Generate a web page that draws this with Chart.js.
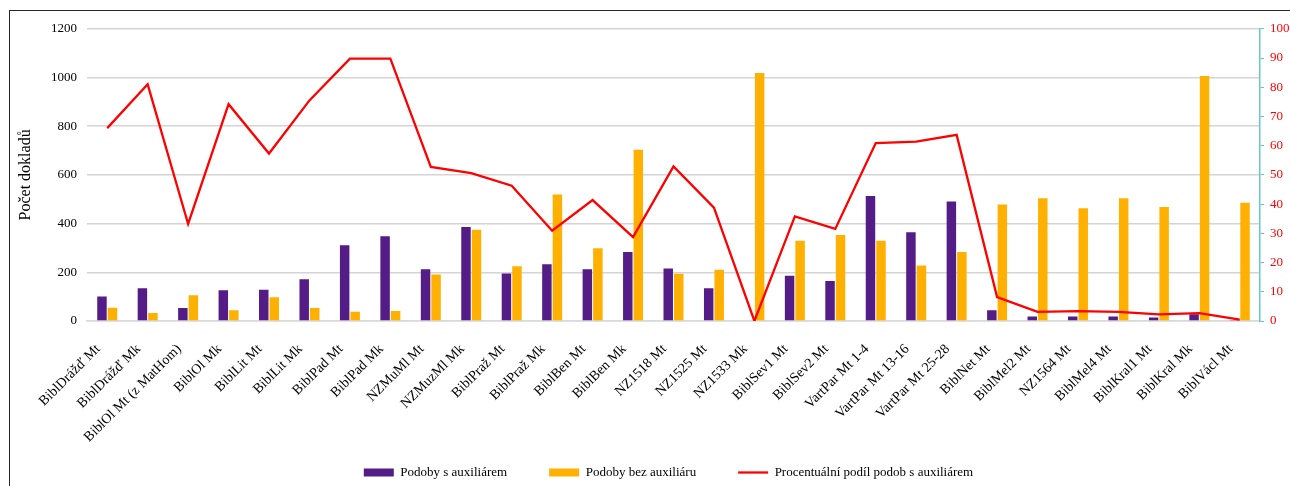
<!DOCTYPE html>
<html>
<head>
<meta charset="utf-8">
<script src="https://cdn.jsdelivr.net/npm/chart.js@4"></script>
<style>
  html, body { margin: 0; padding: 0; background: #fff; overflow: hidden; }
  #frame { position: absolute; left: 9px; top: 10px; width: 1400px; height: 600px; border: 1px solid #262626; }
  #wrap { position: absolute; left: 11px; top: 11px; }
</style>
</head>
<body>
<div id="frame"></div>
<div id="wrap"><canvas id="myChart" width="1315" height="478"></canvas></div>
<script>
// texty a počty dokladů
const labels = [
  'BiblDrážď Mt', 'BiblDrážď Mk', 'BiblOl Mt (z MatHom)', 'BiblOl Mk', 'BiblLit Mt',
  'BiblLit Mk', 'BiblPad Mt', 'BiblPad Mk', 'NZMuMl Mt', 'NZMuzMl Mk',
  'BiblPraž Mt', 'BiblPraž Mk', 'BiblBen Mt', 'BiblBen Mk', 'NZ1518 Mt',
  'NZ1525 Mt', 'NZ1533 Mk', 'BiblSev1 Mt', 'BiblSev2 Mt', 'VartPar Mt 1-4',
  'VartPar Mt 13-16', 'VartPar Mt 25-28', 'BiblNet Mt', 'BiblMel2 Mt', 'NZ1564 Mt',
  'BiblMel4 Mt', 'BiblKral1 Mt', 'BiblKral Mk', 'BiblVácl Mt'
];

const sAuxiliarem = [101, 135, 53, 126, 128, 171, 311, 348, 213, 386, 195, 233, 213, 283, 216,
  135, 0, 186, 164, 513, 364, 491, 44, 18, 18, 18, 14, 28, 2];

const bezAuxiliaru = [54, 33, 106, 44, 98, 53, 38, 41, 191, 375, 225, 519, 299, 703, 194,
  210, 1018, 330, 353, 330, 228, 283, 478, 504, 463, 504, 468, 1006, 486];

// procentuální podíl podob s auxiliárem
const podil = [66.0, 81.0, 33.2, 74.2, 57.3, 75.5, 89.8, 89.8, 52.7, 50.6, 46.3, 30.9, 41.4, 28.7, 52.9,
  38.8, 0, 35.8, 31.5, 60.9, 61.4, 63.7, 8.2, 3.1, 3.4, 3.1, 2.3, 2.7, 0.5];

const levaOsa = [0, 200, 400, 600, 800, 1000, 1200];
const pravaOsa = [0, 10, 20, 30, 40, 50, 60, 70, 80, 90, 100];

Chart.defaults.font.family = "'Liberation Serif', 'Times New Roman', serif";
Chart.defaults.color = '#000';

// popisky osy x přesahují pod legendu, proto se neořezávají na výšku osy
const volnePopisky = {
  id: 'volnePopisky',
  afterLayout(chart) {
    const x = chart.scales.x;
    x._computeLabelArea = function () {
      return { top: this.top, left: 0, bottom: this.chart.height, right: this.chart.width };
    };
  }
};

const data = {
  labels: labels,
  datasets: [
    {
      type: 'bar',
      label: 'Podoby s auxiliárem',
      data: sAuxiliarem,
      backgroundColor: '#531c87',
      yAxisID: 'y',
      order: 1,
      categoryPercentage: 0.52,
      barPercentage: 0.9
    },
    {
      type: 'bar',
      label: 'Podoby bez auxiliáru',
      data: bezAuxiliaru,
      backgroundColor: '#ffb000',
      yAxisID: 'y',
      order: 1,
      categoryPercentage: 0.52,
      barPercentage: 0.9
    },
    {
      type: 'line',
      label: 'Procentuální podíl podob s auxiliárem',
      data: podil,
      borderColor: '#ff0000',
      backgroundColor: '#ff0000',
      borderWidth: 2.3,
      pointRadius: 0,
      tension: 0,
      fill: false,
      yAxisID: 'y1',
      order: 0
    }
  ]
};

const config = {
  type: 'bar',
  data: data,
  plugins: [volnePopisky],
  options: {
    responsive: false,
    animation: false,
    layout: { padding: { top: 16, left: 0, right: 0, bottom: 0 } },
    plugins: {
      tooltip: { enabled: false },
      legend: {
        position: 'bottom',
        labels: {
          usePointStyle: true,
          pointStyleWidth: 30,
          boxHeight: 8,
          padding: 42,
          color: '#000',
          font: { size: 13 },
          generateLabels(chart) {
            const items = Chart.defaults.plugins.legend.labels.generateLabels(chart);
            items.sort((a, b) => a.datasetIndex - b.datasetIndex);
            items.forEach(it => {
              const ds = chart.data.datasets[it.datasetIndex];
              if (ds.type === 'line') {
                it.pointStyle = 'line';
                it.strokeStyle = ds.borderColor;
                it.lineWidth = 2.3;
              } else {
                it.pointStyle = 'rect';
                it.lineWidth = 0;
              }
            });
            return items;
          }
        }
      }
    },
    scales: {
      x: {
        grid: { display: false },
        border: { display: true, color: '#d9d9d9', width: 1.5 },
        ticks: {
          autoSkip: false,
          minRotation: 45,
          maxRotation: 45,
          padding: 12,
          labelOffset: -9,
          color: '#000',
          font: { size: 14 }
        },
        afterFit(s) { s.height = 103; }
      },
      y: {
        position: 'left',
        min: 0,
        max: 1200,
        afterBuildTicks(s) { s.ticks = levaOsa.map(v => ({ value: v })); },
        grid: { color: '#d4d4d4', lineWidth: 1.5, drawTicks: false },
        border: { display: false },
        ticks: {
          padding: 10,
          color: '#000',
          font: { size: 13 },
          callback: v => String(v)
        },
        title: {
          display: true,
          text: 'Počet dokladů',
          color: '#000',
          font: { size: 16 },
          padding: { top: 5, bottom: 0 }
        },
        afterFit(s) { s.width = 76; }
      },
      y1: {
        position: 'right',
        min: 0,
        max: 100,
        afterBuildTicks(s) { s.ticks = pravaOsa.map(v => ({ value: v })); },
        grid: { drawOnChartArea: false, color: '#66c8c8', tickLength: 4 },
        border: { color: '#66c8c8', width: 1.5 },
        ticks: {
          padding: 6,
          color: '#ff0000',
          font: { size: 13 },
          callback: v => String(v)
        },
        afterFit(s) { s.width = 66; }
      }
    }
  }
};

const myChart = new Chart(document.getElementById('myChart'), config);
</script>
</body>
</html>
